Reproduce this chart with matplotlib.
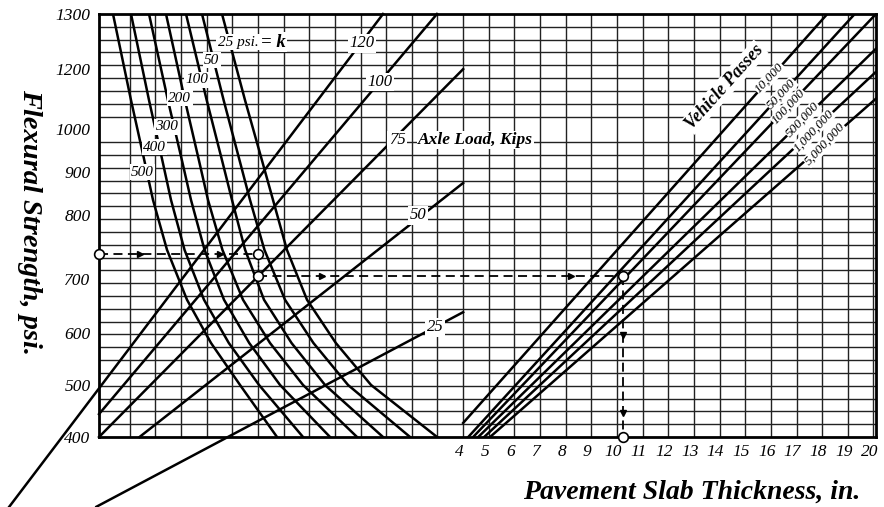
import matplotlib.pyplot as plt
from matplotlib.transforms import ScaledTranslation
import numpy as np

plt.rcParams['font.family'] = ['Liberation Serif', 'DejaVu Serif']
plt.rcParams['font.style'] = 'italic'

# flexural strength scale: psi -> row of the graph paper (33 rows, 400 psi at the bottom)
psi_ticks = [400, 500, 600, 700, 800, 900, 1000, 1200, 1300]
psi_rows = [0, 4.06, 8.1, 12.3, 17.3, 20.7, 24, 28.7, 33]
thick_ticks = list(range(4, 21))

# modulus of subgrade reaction curves (k, psi) read at these strength levels
k_values = [500, 400, 300, 200, 100, 50, 25]
k_psi = [1300, 1097, 928, 835, 746, 662, 581, 500, 400]
k_x = [
    [-9.654, -8.952, -8.437, -8.094, -7.548, -6.768, -5.832, -4.701, -3.258],
    [-8.952, -8.250, -7.735, -7.392, -6.865, -6.105, -5.138, -3.960, -2.244],
    [-8.250, -7.513, -6.971, -6.612, -6.085, -5.325, -4.342, -3.141, -1.191],
    [-7.587, -6.850, -6.308, -5.949, -5.387, -4.584, -3.531, -2.244, -0.138],
    [-6.807, -6.000, -5.407, -5.013, -4.502, -3.765, -2.692, -1.386, 0.876],
    [-6.183, -5.340, -4.724, -4.311, -3.749, -2.946, -1.838, -0.489, 1.930],
    [-5.403, -4.506, -3.851, -3.414, -2.872, -2.088, -0.964, 0.408, 2.983],
]
k_label_pos = [(-8.5, 899), (-8.03, 958), (-7.56, 1008), (-7.05, 1104),
               (-6.39, 1164), (-5.80, 1216), (-5.57, 1249)]

# axle load lines, kips
axle_loads = [120, 100, 75, 50, 25]
axle_start = [(-13.7, 266), (-10.2, 444), (-10.2, 400), (-8.62, 400), (-10.3, 266)]
axle_end = [(0.875, 1300), (2.98, 1300), (4.0, 1200), (4.0, 874), (4.0, 639)]
axle_label_pos = [(0.05, 1247), (0.76, 1157), (1.42, 975), (2.24, 800), (2.9, 611)]

# vehicle passes lines
passes = ['10,000', '50,000', '100,000', '500,000', '1,000,000', '5,000,000']
pass_start = [(4.0, 427), (4.2, 400), (4.39, 400), (4.59, 400), (4.82, 400), (5.05, 400)]
pass_end = [(18.2, 1300), (19.27, 1300), (20.1, 1300), (20.1, 1237), (20.1, 1191), (20.1, 1102)]
pass_label_pos = [(15.95, 1170), (16.42, 1117), (16.7, 1074), (17.24, 1031),
                  (17.67, 996), (18.1, 965)]

# worked example
ex_strength = 740
ex_strength2 = 705
ex_k_x = -4.0
ex_thick = 10.25


def fwd(v):
    return np.interp(v, [200] + psi_ticks + [1500], [-8.12] + psi_rows + [41])


def inv(r):
    return np.interp(r, [-8.12] + psi_rows + [41], [200] + psi_ticks + [1500])


fig = plt.figure(figsize=(8.84, 5.07), dpi=100)
ax = fig.add_axes([99 / 884, 70 / 507, 777 / 884, 423 / 507])
ax.set_yscale('function', functions=(fwd, inv))
ax.set_xlim(-10.2, 20.1)
ax.set_ylim(400, 1300)

ax.set_xticks(thick_ticks)
ax.set_xticks(range(-9, 4), minor=True)
ax.set_yticks(psi_ticks)
ax.set_yticks(inv(np.arange(1, 33)), minor=True)
ax.tick_params(which='both', length=0)
ax.tick_params(axis='y', pad=6, labelsize=12.5)
ax.tick_params(axis='x', pad=5, labelsize=12.5)
# thickness numbers sit a little left of their grid lines
shift = ScaledTranslation(-4 / 100, 0, fig.dpi_scale_trans)
for lab in ax.get_xticklabels():
    lab.set_transform(lab.get_transform() + shift)
ax.xaxis.grid(True, which='both', color='#222222', lw=1.0)
ax.yaxis.grid(True, which='minor', color='#222222', lw=1.0)
for s in ax.spines.values():
    s.set_linewidth(2)

lw = 1.8
for xs in k_x:
    ax.plot(xs, k_psi, color='black', lw=lw, zorder=3)
for (x0, y0), (x1, y1) in zip(axle_start, axle_end):
    ax.plot([x0, x1], [y0, y1], color='black', lw=lw, zorder=3, clip_on=False)
for (x0, y0), (x1, y1) in zip(pass_start, pass_end):
    ax.plot([x0, x1], [y0, y1], color='black', lw=lw, zorder=3)

box = dict(facecolor='white', edgecolor='none', pad=1.0)
for k, (x, y) in zip(k_values, k_label_pos):
    if k == 25:
        t = ax.text(x, y, '25 psi.', fontsize=11, ha='left', va='center', bbox=box, zorder=5)
        ax.annotate('= k', xy=(1, 0.5), xycoords=t, xytext=(2, 0), textcoords='offset points',
                    fontsize=13.5, fontweight='bold', ha='left', va='center', bbox=box, zorder=5)
    else:
        ax.text(x, y, str(k), fontsize=11, ha='center', va='center', bbox=box, zorder=5)

for a, (x, y) in zip(axle_loads, axle_label_pos):
    ax.text(x, y, str(a), fontsize=12, ha='center', va='center', bbox=box, zorder=5)
ax.text(2.24, 975, 'Axle Load, Kips', fontsize=12.5, fontweight='bold',
        ha='left', va='center', bbox=box, zorder=5)

for p, (x, y) in zip(passes, pass_label_pos):
    ax.text(x, y, p, fontsize=9.5, rotation=47, ha='center', va='center',
            rotation_mode='anchor', bbox=dict(facecolor='white', edgecolor='none', pad=0.3), zorder=5)
ax.text(14.18, 1140, 'Vehicle Passes', fontsize=13, fontweight='bold', rotation=48,
        ha='center', va='center', rotation_mode='anchor', bbox=box, zorder=5)

# example path
dash = dict(color='black', lw=1.3, ls=(0, (5, 3)), zorder=4)
ax.plot([-10.2, ex_k_x], [ex_strength, ex_strength], **dash)
ax.plot([ex_k_x, ex_k_x], [ex_strength, ex_strength2], color='black', lw=1.0, ls=':', zorder=4)
ax.plot([ex_k_x, ex_thick], [ex_strength2, ex_strength2], **dash)
ax.plot([ex_thick, ex_thick], [ex_strength2, 400], **dash)
ax.plot([-8.6, -5.5], [ex_strength, ex_strength], ls='none', marker='>', ms=5, color='black', zorder=4)
ax.plot([-1.5, 8.2], [ex_strength2, ex_strength2], ls='none', marker='>', ms=5, color='black', zorder=4)
ax.plot([ex_thick, ex_thick], [597, 446], ls='none', marker='v', ms=5, color='black', zorder=4)
ax.plot([-10.2, ex_k_x, ex_k_x, ex_thick, ex_thick],
        [ex_strength, ex_strength, ex_strength2, ex_strength2, 400],
        ls='none', marker='o', ms=7, mfc='white', mec='black', mew=1.2, zorder=6, clip_on=False)

fig.text(30 / 884, 1 - 222 / 507, 'Flexural Strength, psi.', rotation=270, fontsize=20.5,
         fontweight='bold', ha='center', va='center')
fig.text(692 / 884, 1 - 492 / 507, 'Pavement Slab Thickness, in.', fontsize=20,
         fontweight='bold', ha='center', va='center')

fig.savefig('out.png', dpi=100)
